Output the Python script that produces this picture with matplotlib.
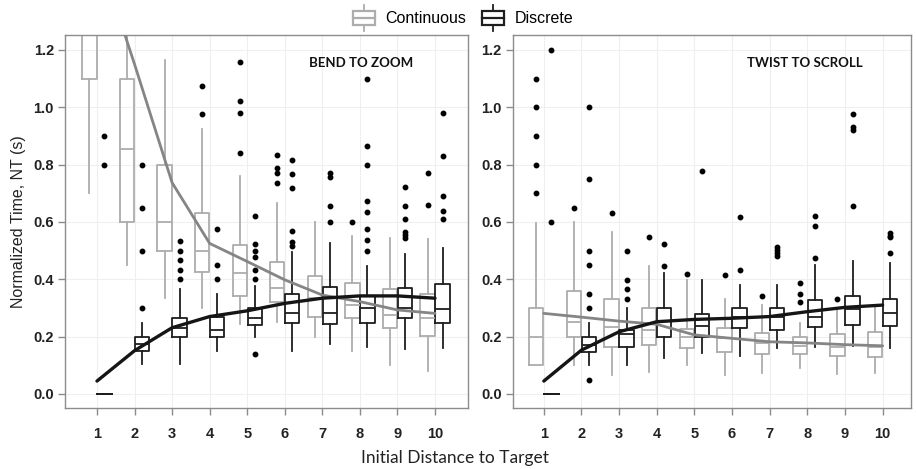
import numpy as np
import matplotlib
matplotlib.use("Agg")
import matplotlib.pyplot as plt
from matplotlib.patches import Rectangle
from matplotlib.lines import Line2D
from matplotlib.legend_handler import HandlerBase

distances = [1, 2, 3, 4, 5, 6, 7, 8, 9, 10]
series_names = ["Continuous", "Discrete"]
panel_titles = ["BEND TO ZOOM", "TWIST TO SCROLL"]

# ---- Bend to zoom ----
bend_cont_whislo = [0.70, 0.45, 0.335, 0.30, 0.245, 0.25, 0.20, 0.15, 0.10, 0.08]
bend_cont_q1 = [1.10, 0.60, 0.50, 0.427, 0.34, 0.32, 0.268, 0.264, 0.229, 0.202]
bend_cont_med = [1.40, 0.855, 0.60, 0.50, 0.423, 0.369, 0.335, 0.31, 0.275, 0.265]
bend_cont_q3 = [1.60, 1.10, 0.80, 0.632, 0.52, 0.459, 0.413, 0.386, 0.367, 0.348]
bend_cont_whishi = [2.0, 1.35, 1.165, 0.924, 0.761, 0.665, 0.60, 0.551, 0.543, 0.54]
bend_cont_fliers = [[], [], [], [1.075, 0.975], [1.159, 1.02, 0.981, 0.84],
                    [0.834, 0.787, 0.77, 0.735], [], [0.60], [], [0.77, 0.66]]
bend_cont_mean = [1.55, 1.15, 0.737, 0.525, 0.462, 0.398, 0.345, 0.322, 0.293, 0.281]

bend_disc_whislo = [0.0, 0.104, 0.104, 0.151, 0.20, 0.151, 0.174, 0.165, 0.157, 0.161]
bend_disc_q1 = [0.0, 0.15, 0.20, 0.20, 0.241, 0.247, 0.243, 0.249, 0.265, 0.247]
bend_disc_med = [0.0, 0.174, 0.23, 0.223, 0.264, 0.284, 0.284, 0.299, 0.30, 0.296]
bend_disc_q3 = [0.0, 0.20, 0.266, 0.27, 0.299, 0.349, 0.374, 0.34, 0.369, 0.383]
bend_disc_whishi = [0.0, 0.249, 0.365, 0.348, 0.377, 0.496, 0.528, 0.448, 0.488, 0.51]
bend_disc_fliers = [[0.9, 0.8], [0.8, 0.65, 0.5, 0.3], [0.532, 0.50, 0.466, 0.433, 0.40],
                    [0.574, 0.449, 0.40], [0.621, 0.522, 0.50, 0.479, 0.433, 0.40, 0.14],
                    [0.816, 0.767, 0.717, 0.569, 0.531, 0.516], [0.772, 0.758, 0.657, 0.599],
                    [1.10, 0.863, 0.80, 0.674, 0.636, 0.576, 0.537, 0.499],
                    [0.723, 0.657, 0.61, 0.566, 0.555, 0.543], [0.98, 0.83, 0.69, 0.638, 0.61]]
bend_disc_mean = [0.045, 0.151, 0.231, 0.27, 0.29, 0.316, 0.334, 0.342, 0.342, 0.334]

# ---- Twist to scroll ----
twist_cont_whislo = [0.10, 0.101, 0.066, 0.076, 0.101, 0.066, 0.072, 0.09, 0.07, 0.072]
twist_cont_q1 = [0.10, 0.20, 0.165, 0.171, 0.16, 0.148, 0.14, 0.138, 0.133, 0.13]
twist_cont_med = [0.20, 0.252, 0.233, 0.223, 0.20, 0.195, 0.177, 0.169, 0.165, 0.165]
twist_cont_q3 = [0.299, 0.36, 0.331, 0.299, 0.225, 0.229, 0.214, 0.20, 0.208, 0.217]
twist_cont_whishi = [0.597, 0.60, 0.564, 0.448, 0.398, 0.331, 0.31, 0.247, 0.299, 0.305]
twist_cont_fliers = [[1.1, 1.0, 0.9, 0.8, 0.7], [0.648], [0.632], [0.549], [0.419],
                     [0.415], [0.34], [0.386, 0.349, 0.322], [0.331], []]
twist_cont_mean = [0.281, 0.268, 0.254, 0.243, 0.206, 0.194, 0.182, 0.178, 0.172, 0.168]

twist_disc_whislo = [0.0, 0.101, 0.101, 0.125, 0.142, 0.134, 0.159, 0.165, 0.169, 0.161]
twist_disc_q1 = [0.0, 0.148, 0.165, 0.20, 0.20, 0.231, 0.223, 0.235, 0.241, 0.238]
twist_disc_med = [0.0, 0.17, 0.21, 0.255, 0.237, 0.27, 0.27, 0.268, 0.295, 0.281]
twist_disc_q3 = [0.0, 0.20, 0.223, 0.299, 0.279, 0.299, 0.299, 0.328, 0.342, 0.33]
twist_disc_whishi = [0.0, 0.247, 0.299, 0.423, 0.398, 0.38, 0.38, 0.45, 0.464, 0.458]
twist_disc_fliers = [[1.2, 0.6], [1.0, 0.75, 0.5, 0.45, 0.35, 0.30, 0.05],
                     [0.497, 0.398, 0.365, 0.331], [0.523, 0.448], [0.778], [0.616, 0.433],
                     [0.514, 0.502, 0.491, 0.481], [0.622, 0.586, 0.475],
                     [0.975, 0.932, 0.921, 0.655], [0.56, 0.551, 0.547, 0.491]]
twist_disc_mean = [0.045, 0.153, 0.217, 0.252, 0.26, 0.264, 0.27, 0.287, 0.302, 0.31]

CONT_BOX = "#adadad"
CONT_LINE = "#858585"
DISC_BOX = "#1e1e1e"
DISC_LINE = "#151515"


def make_stats(whislo, q1, med, q3, whishi, fliers):
    return [dict(whislo=a, q1=b, med=c, q3=d, whishi=e, fliers=f)
            for a, b, c, d, e, f in zip(whislo, q1, med, q3, whishi, fliers)]


def draw_series(ax, stats, means, offset, box_col, line_col, line_w):
    pos = [d + offset for d in distances]
    ax.bxp(stats, positions=pos, widths=0.38, showcaps=False, patch_artist=False,
           boxprops=dict(color=box_col, lw=1.3),
           whiskerprops=dict(color=box_col, lw=1.3),
           medianprops=dict(color=box_col, lw=1.3),
           flierprops=dict(marker="o", markerfacecolor="black", markeredgecolor="black",
                           markersize=3.2, linestyle="none"),
           manage_ticks=False, zorder=2)
    ax.plot(distances, means, color=line_col, lw=line_w, zorder=4, solid_capstyle="round")


class BoxHandler(HandlerBase):
    def __init__(self, color):
        super().__init__()
        self.color = color

    def create_artists(self, legend, orig_handle, xdescent, ydescent, width, height,
                       fontsize, trans):
        w = width * 0.9
        x0 = -xdescent + (width - w) / 2
        y0 = -ydescent + height * 0.1
        h = height * 0.8
        xm = x0 + w / 2
        arts = [Rectangle((x0, y0), w, h, fill=False, ec=self.color, lw=1.6, transform=trans),
                Line2D([x0, x0 + w], [y0 + h / 2] * 2, color=self.color, lw=1.6, transform=trans),
                Line2D([xm, xm], [y0 + h, y0 + h + height * 0.35], color=self.color, lw=1.3,
                       transform=trans),
                Line2D([xm, xm], [y0, y0 - height * 0.35], color=self.color, lw=1.3,
                       transform=trans)]
        return arts


fig = plt.figure(figsize=(9.16, 4.69), dpi=100)
ax_l = fig.add_axes([0.071, 0.130, 0.440, 0.7955])
ax_r = fig.add_axes([0.560, 0.130, 0.434, 0.7955])

panels = [
    (ax_l, (0.15, 10.88),
     make_stats(bend_cont_whislo, bend_cont_q1, bend_cont_med, bend_cont_q3, bend_cont_whishi, bend_cont_fliers),
     bend_cont_mean,
     make_stats(bend_disc_whislo, bend_disc_q1, bend_disc_med, bend_disc_q3, bend_disc_whishi, bend_disc_fliers),
     bend_disc_mean),
    (ax_r, (0.18, 10.74),
     make_stats(twist_cont_whislo, twist_cont_q1, twist_cont_med, twist_cont_q3, twist_cont_whishi, twist_cont_fliers),
     twist_cont_mean,
     make_stats(twist_disc_whislo, twist_disc_q1, twist_disc_med, twist_disc_q3, twist_disc_whishi, twist_disc_fliers),
     twist_disc_mean),
]

for (ax, xl, cst, cmean, dst, dmean), title in zip(panels, panel_titles):
    draw_series(ax, cst, cmean, -0.2, CONT_BOX, CONT_LINE, 2.0)
    draw_series(ax, dst, dmean, 0.2, DISC_BOX, DISC_LINE, 2.4)
    ax.set_xlim(*xl)
    ax.set_ylim(-0.049, 1.252)
    ax.set_xticks(distances)
    ax.set_xticklabels([str(d) for d in distances])
    ax.set_yticks([0.0, 0.2, 0.4, 0.6, 0.8, 1.0, 1.2])
    ax.set_yticklabels(["0.0", "0.2", "0.4", "0.6", "0.8", "1.0", "1.2"])
    ax.grid(True, color="#efefef", lw=0.8, zorder=0)
    ax.set_axisbelow(True)
    for s in ax.spines.values():
        s.set_color("#8c8c8c")
        s.set_linewidth(1.0)
    ax.tick_params(direction="out", length=5, width=1, color="#8c8c8c",
                   labelsize=10.5, labelcolor="#222222")
    ax.tick_params(axis="x", pad=9)
    ax.tick_params(axis="y", pad=3)
    for lab in ax.get_xticklabels() + ax.get_yticklabels():
        lab.set_fontweight("bold")
        lab.set_fontfamily("Liberation Sans")
    ax.text(0.865 if ax is ax_l else 0.88, 0.925, title, transform=ax.transAxes,
            ha="right", va="center", fontsize=9.5, fontweight="bold", family="Lato",
            color="#111111")

ax_l.set_ylabel("Normalized Time, NT (s)", fontsize=11.5, family="Liberation Sans",
                color="#222222", labelpad=5)
fig.text(0.497, 0.024, "Initial Distance to Target", ha="center", va="center",
         fontsize=12.5, family="Lato", color="#222222")

h_cont = Rectangle((0, 0), 1, 1)
h_disc = Rectangle((0, 0), 1, 1, label="d")
leg = fig.legend([h_cont, h_disc], series_names, loc="center", bbox_to_anchor=(0.505, 0.962),
                 ncol=2, frameon=False, handlelength=1.5, handleheight=1.3,
                 handletextpad=0.6, columnspacing=0.9,
                 prop=dict(family="Liberation Sans", size=11.5),
                 handler_map={h_cont: BoxHandler(CONT_BOX), h_disc: BoxHandler(DISC_BOX)})

fig.savefig("out.png", dpi=100, facecolor="white")
